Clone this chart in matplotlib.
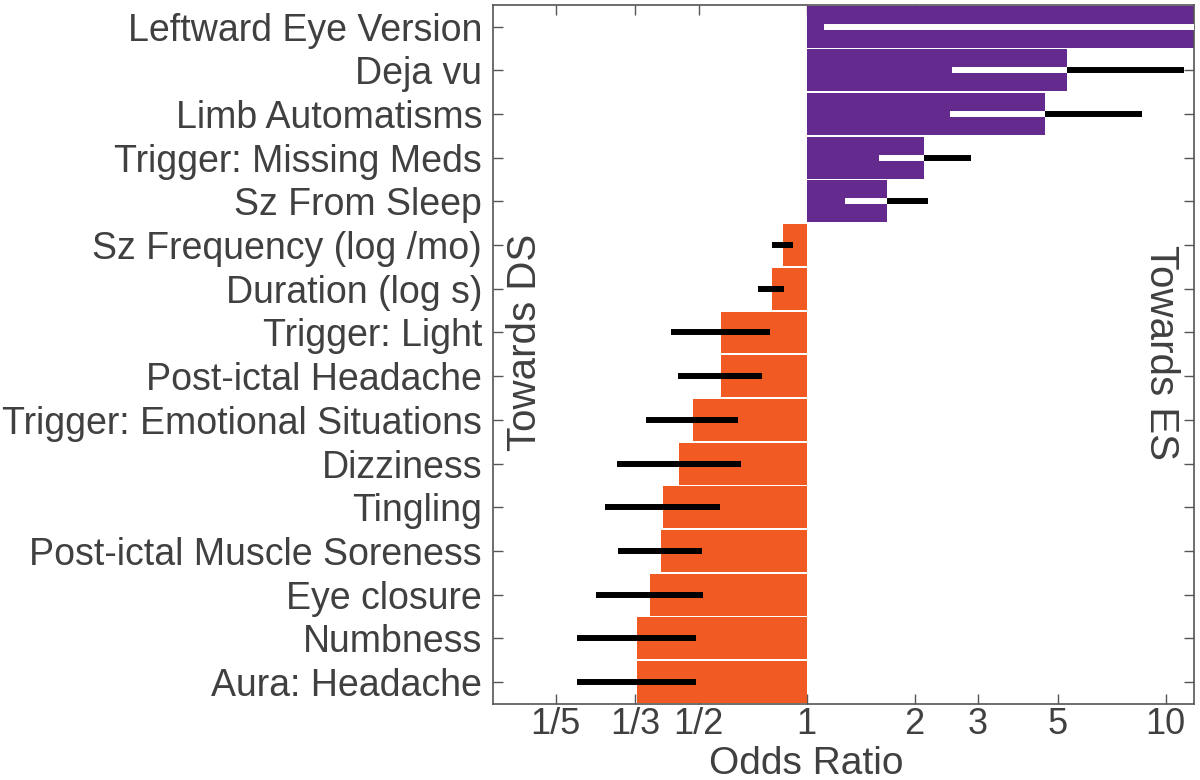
import matplotlib
matplotlib.use('Agg')
import matplotlib.pyplot as plt
import numpy as np

plt.rcParams['font.family'] = ['Liberation Sans', 'DejaVu Sans']

# categories, top to bottom
labels = ['Leftward Eye Version', 'Deja vu', 'Limb Automatisms',
          'Trigger: Missing Meds', 'Sz From Sleep', 'Sz Frequency (log /mo)',
          'Duration (log s)', 'Trigger: Light', 'Post-ictal Headache',
          'Trigger: Emotional Situations', 'Dizziness', 'Tingling',
          'Post-ictal Muscle Soreness', 'Eye closure', 'Numbness',
          'Aura: Headache']
odds = [20.0, 5.33, 4.62, 2.13, 1.67, 0.861, 0.80, 0.577, 0.576,
        0.482, 0.442, 0.399, 0.392, 0.367, 0.337, 0.337]
ci_low = [1.12, 2.54, 2.51, 1.59, 1.28, 0.799, 0.732, 0.419, 0.439,
          0.358, 0.296, 0.275, 0.298, 0.259, 0.230, 0.230]
ci_high = [60.0, 11.25, 8.57, 2.87, 2.18, 0.918, 0.865, 0.79, 0.749,
           0.645, 0.655, 0.574, 0.51, 0.515, 0.491, 0.491]

ticks = [1/5, 1/3, 1/2, 1, 2, 3, 5, 10]
tick_labels = ['1/5', '1/3', '1/2', '1', '2', '3', '5', '10']

purple = '#652a8e'
orange = '#f15a22'
txt = '#404040'

fig = plt.figure(figsize=(12, 7.8), dpi=100)
ax = fig.add_axes([0.411, 0.0974, 0.584, 0.8966])

y = np.arange(len(labels))
colors = [purple if v > 1 else orange for v in odds]
ax.barh(y, [v - 1 for v in odds], left=1, height=0.96, color=colors, zorder=2)

# confidence intervals: white where they lie inside a purple bar
for i in range(len(labels)):
    lo, hi, v = ci_low[i], ci_high[i], odds[i]
    if v > 1:
        ax.hlines(i, lo, min(v, hi), color='white', lw=4.3, capstyle='butt', zorder=3)
        if hi > v:
            ax.hlines(i, v, hi, color='black', lw=4.3, capstyle='butt', zorder=3)
    else:
        ax.hlines(i, lo, hi, color='black', lw=4.3, capstyle='butt', zorder=3)

ax.set_xscale('log')
ax.set_xlim(0.134, 12)
ax.set_ylim(15.5, -0.5)
ax.set_xticks(ticks)
ax.set_xticklabels(tick_labels)
ax.minorticks_off()
ax.set_yticks(y)
ax.set_yticklabels(labels)
ax.tick_params(direction='in', top=True, right=True, length=7, width=1,
               color='#555555', labelcolor=txt, labelsize=26)
ax.tick_params(axis='y', pad=8, labelsize=27)
ax.tick_params(axis='x', pad=2)
for s in ax.spines.values():
    s.set_color('#555555')
    s.set_linewidth(1.2)

ax.set_xlabel('Odds Ratio', fontsize=28, color=txt, va='baseline')
ax.xaxis.set_label_coords(0.447, -0.1)

ax.text(0.046, 0.5177, 'Towards DS', transform=ax.transAxes, rotation=90,
        ha='center', va='center', fontsize=29, color=txt)
ax.text(0.9525, 0.5024, 'Towards ES', transform=ax.transAxes, rotation=270,
        ha='center', va='center', fontsize=29, color=txt)

fig.savefig('out.png', dpi=100)
